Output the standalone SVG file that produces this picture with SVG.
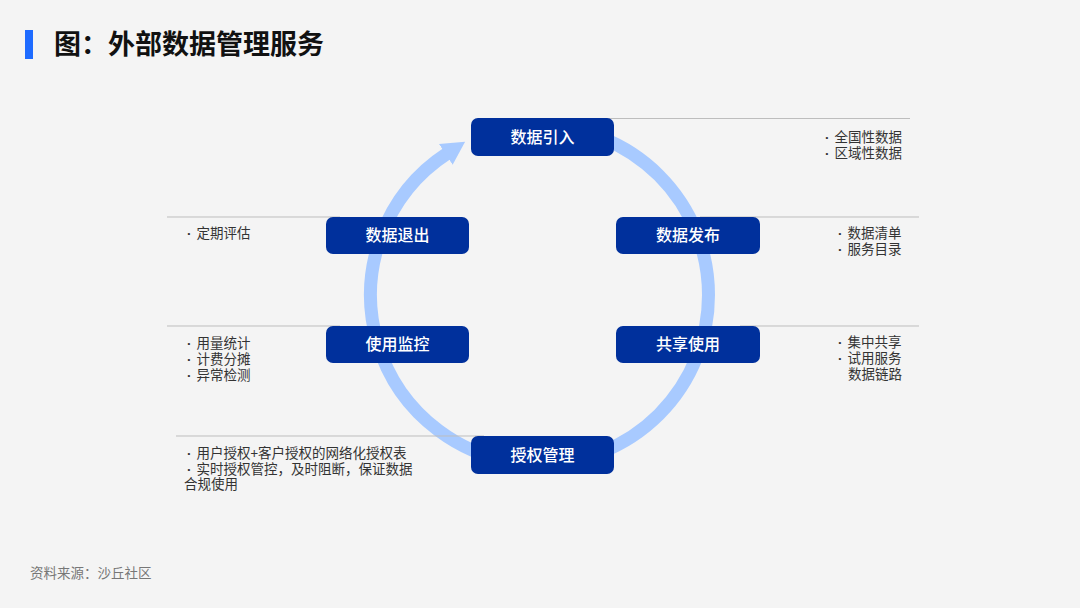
<svg xmlns="http://www.w3.org/2000/svg" width="1080" height="608" viewBox="0 0 1080 608">
<defs>
<style>
.t{font-family:"Noto Sans CJK SC","Noto Sans",sans-serif;}
.title{font-size:27px;font-weight:700;fill:#111;}
.lbl{font-size:16px;font-weight:500;fill:#fff;text-anchor:middle;}
.side{font-size:13.5px;fill:#333;}
.b{font-family:"Liberation Sans",sans-serif;font-weight:700;}
.src{font-size:13.5px;fill:#777;}
.box{fill:#00309C;}
.rule{stroke:#bdbdbd;stroke-width:1;fill:none;}
.ring{stroke:#A8CAFF;stroke-width:13;fill:none;}
</style>
<marker id="ah" markerUnits="userSpaceOnUse" markerWidth="30" markerHeight="30" refX="2" refY="15" orient="auto" viewBox="0 0 30 30">
<path d="M0,2.5 L23,15 L0,27.5 Z" fill="#A8CAFF"/>
</marker>
</defs>
<rect width="1080" height="608" fill="#F4F4F4"/>
<rect x="25" y="30" width="8" height="29" fill="#1E6BFF"/>
<text class="t title" x="54" y="54">图：外部数据管理服务</text>

<g id="connectors">
<path class="ring" d="M539.5,126 A169,169 0 0 1 539.5,464 A169,169 0 0 1 447.5,153.3" marker-end="url(#ah)"/>
<line class="rule" x1="600" y1="118.5" x2="910" y2="118.5"/>
<line class="rule" x1="700" y1="217" x2="919" y2="217"/>
<line class="rule" x1="740" y1="326" x2="919" y2="326"/>
<line class="rule" x1="167" y1="217" x2="340" y2="217"/>
<line class="rule" x1="167" y1="326" x2="340" y2="326"/>
<line class="rule" x1="176" y1="436" x2="484" y2="436"/>
</g>

<g id="n1">
<rect class="box" x="471" y="118" width="143" height="38" rx="7"/>
<text class="t lbl" x="542.5" y="142.5">数据引入</text>
</g>
<g id="n2">
<rect class="box" x="616" y="217" width="144" height="37" rx="7"/>
<text class="t lbl" x="688" y="241">数据发布</text>
</g>
<g id="n3">
<rect class="box" x="616" y="326" width="144" height="37" rx="7"/>
<text class="t lbl" x="688" y="350">共享使用</text>
</g>
<g id="n4">
<rect class="box" x="471" y="436" width="143" height="38" rx="7"/>
<text class="t lbl" x="542.5" y="460.5">授权管理</text>
</g>
<g id="n5">
<rect class="box" x="326" y="326" width="143" height="37" rx="7"/>
<text class="t lbl" x="397.5" y="350">使用监控</text>
</g>
<g id="n6">
<rect class="box" x="326" y="217" width="143" height="37" rx="7"/>
<text class="t lbl" x="397.5" y="241">数据退出</text>
</g>

<g id="notes">
<text class="t side" x="825" y="142"><tspan class="b">·</tspan><tspan dx="5">全国性数据</tspan></text>
<text class="t side" x="825" y="158"><tspan class="b">·</tspan><tspan dx="5">区域性数据</tspan></text>
<text class="t side" x="838" y="238"><tspan class="b">·</tspan><tspan dx="5">数据清单</tspan></text>
<text class="t side" x="838" y="254"><tspan class="b">·</tspan><tspan dx="5">服务目录</tspan></text>
<text class="t side" x="838" y="347"><tspan class="b">·</tspan><tspan dx="5">集中共享</tspan></text>
<text class="t side" x="838" y="363"><tspan class="b">·</tspan><tspan dx="5">试用服务</tspan></text>
<text class="t side" x="848" y="379">数据链路</text>
<text class="t side" x="187" y="238"><tspan class="b">·</tspan><tspan dx="5">定期评估</tspan></text>
<text class="t side" x="187" y="348"><tspan class="b">·</tspan><tspan dx="5">用量统计</tspan></text>
<text class="t side" x="187" y="364"><tspan class="b">·</tspan><tspan dx="5">计费分摊</tspan></text>
<text class="t side" x="187" y="380"><tspan class="b">·</tspan><tspan dx="5">异常检测</tspan></text>
<text class="t side" x="187" y="458"><tspan class="b">·</tspan><tspan dx="5">用户授权+客户授权的网络化授权表</tspan></text>
<text class="t side" x="187" y="474"><tspan class="b">·</tspan><tspan dx="5">实时授权管控，及时阻断，保证数据</tspan></text>
<text class="t side" x="184" y="489">合规使用</text>
</g>

<text class="t src" x="30" y="578">资料来源：沙丘社区</text>
</svg>
